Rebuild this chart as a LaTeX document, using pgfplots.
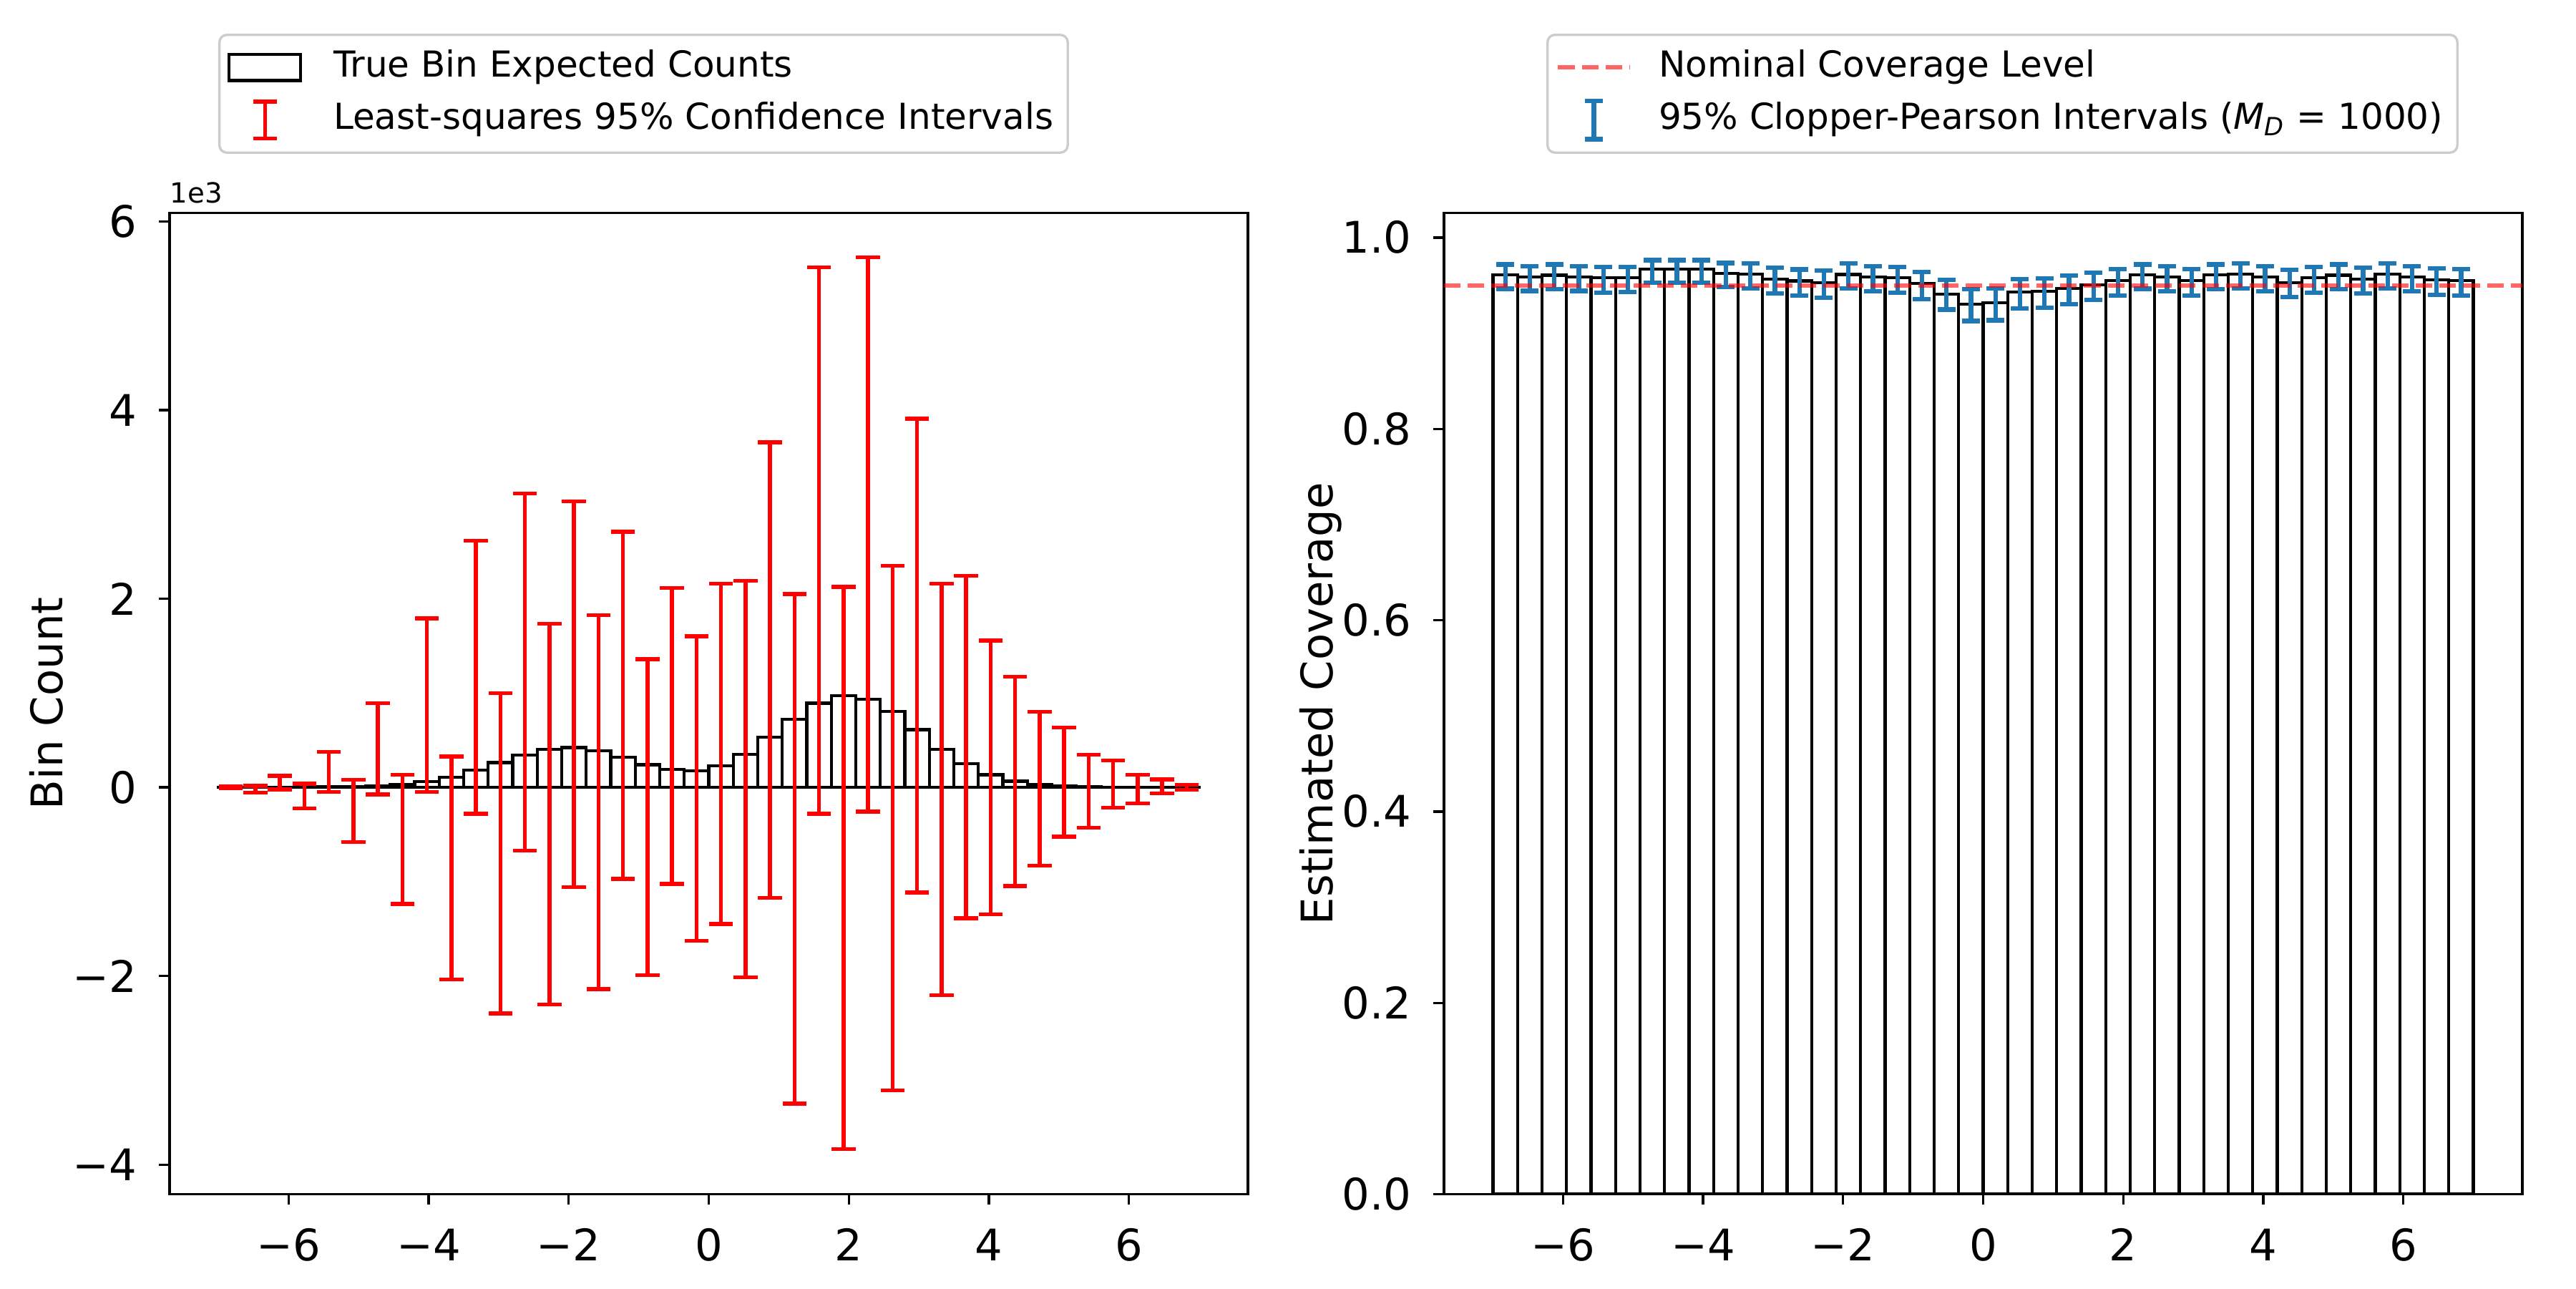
\documentclass[border=0pt]{standalone}
\usepackage{fontspec}
\setmainfont{DejaVu Sans}
\usepackage{pgfplots}
\pgfplotsset{compat=1.18}
\usepackage{pgfplotstable}
\definecolor{tabblue}{HTML}{1F77B4}

\pgfplotstableread{
x h m e
-6.825 0.2 0 10
-6.475 0.5 -21 36
-6.125 1 50 73
-5.775 2 -93 132
-5.425 4 163 212
-5.075 7 -250 331
-4.725 15 409 483
-4.375 32 -551 686
-4.025 60 871 920
-3.675 108 -854 1182
-3.325 180 1167 1446
-2.975 263 -700 1697
-2.625 343 1223 1892
-2.275 405 -283 2018
-1.925 422 986 2045
-1.575 385 -157 1983
-1.225 318 871 1840
-0.875 240 -317 1676
-0.525 188 544 1568
-0.175 174 -11 1614
0.175 231 356 1805
0.525 350 87 2101
0.875 529 1244 2415
1.225 723 -652 2701
1.575 892 2617 2896
1.925 975 -854 2979
2.275 937 2680 2938
2.625 802 -433 2781
2.975 612 1397 2512
3.325 405 -21 2181
3.675 248 429 1816
4.025 134 105 1450
4.375 65 63 1108
4.725 34 -14 815
5.075 16 56 579
5.425 7 -39 387
5.775 3 35 251
6.125 1.5 -18 150
6.475 0.6 11 74
6.825 0.2 0 28
}\leftdata

\pgfplotstableread{
x c m e
-6.825 0.9609 0.9591 0.0127
-6.475 0.9589 0.9570 0.0128
-6.125 0.9606 0.9589 0.0130
-5.775 0.9589 0.9570 0.0128
-5.425 0.9581 0.9558 0.0134
-5.075 0.9581 0.9560 0.0131
-4.725 0.9669 0.9646 0.0117
-4.375 0.9669 0.9646 0.0117
-4.025 0.9669 0.9646 0.0117
-3.675 0.9624 0.9607 0.0126
-3.325 0.9616 0.9598 0.0131
-2.975 0.9564 0.9550 0.0133
-2.625 0.9546 0.9530 0.0136
-2.275 0.9526 0.9513 0.0141
-1.925 0.9614 0.9597 0.0130
-1.575 0.9589 0.9569 0.0130
-1.225 0.9579 0.9558 0.0134
-0.875 0.9519 0.9498 0.0141
-0.525 0.9407 0.9402 0.0155
-0.175 0.9302 0.9294 0.0166
0.175 0.9315 0.9300 0.0165
0.525 0.9429 0.9412 0.0152
0.875 0.9437 0.9419 0.0152
1.225 0.9467 0.9453 0.0148
1.575 0.9504 0.9492 0.0142
1.925 0.9549 0.9532 0.0138
2.275 0.9609 0.9591 0.0127
2.625 0.9589 0.9569 0.0130
2.975 0.9552 0.9532 0.0138
3.325 0.9609 0.9590 0.0128
3.675 0.9616 0.9599 0.0130
4.025 0.9589 0.9569 0.0130
4.375 0.9529 0.9520 0.0141
4.725 0.9579 0.9558 0.0134
5.075 0.9606 0.9590 0.0128
5.425 0.9564 0.9550 0.0133
5.775 0.9616 0.9599 0.0130
6.125 0.9589 0.9569 0.0130
6.475 0.9559 0.9539 0.0137
6.825 0.9549 0.9531 0.0139
}\rightdata

\newcommand\tickfont{\fontsize{14.6bp}{17bp}\selectfont}
\newcommand\legfont{\fontsize{12bp}{14bp}\selectfont}

\pgfplotsset{
  common/.style={
    scale only axis, width=361.68bp, height=329.04bp,
    anchor=south west,
    clip mode=individual,
    xmin=-7.7, xmax=7.7,
    axis line style={line width=0.8bp, black},
    every tick/.style={line width=0.8bp, black},
    major tick length=3.5bp, tick align=outside,
    xtick pos=left, ytick pos=left,
    xtick={-6,-4,-2,0,2,4,6},
    xticklabels={−6,−4,−2,0,2,4,6},
    ticklabel style={font=\tickfont},
    xticklabel style={anchor=base, inner sep=0pt, yshift=-18.9bp},
    yticklabel style={anchor=east, inner sep=0pt, xshift=-7.2bp},
    legend cell align=left,
    legend style={
      anchor=north west,
      draw=black!20, line width=0.8bp, rounded corners=2.5bp,
      fill=white, fill opacity=0.8, draw opacity=1, text opacity=1,
      font=\legfont,
      inner xsep=2.8bp, inner ysep=3bp,
      row sep=1.9bp,
      nodes={inner sep=2bp, text height=9bp, text depth=2.8bp},
    },
  }
}

\begin{document}
\begin{tikzpicture}
\path[use as bounding box] (0,0) rectangle (864bp,432bp);

\begin{axis}[common,
  at={(56.88bp,31.56bp)},
  ymin=-4313, ymax=6090,
  ytick={-4000,-2000,0,2000,4000,6000},
  yticklabels={−4,−2,0,2,4,6},
  every axis y label/.style={at={(rel axis cs:0,0.5)}, xshift=-35.8bp, rotate=90, anchor=base, font=\tickfont},
  ylabel={Bin Count},
  legend style={at={(0.0451,1.1827)}, /tikz/every odd column/.append style={column sep=8.5bp}},
]
\addplot[ybar, bar width=0.35, bar shift=0pt, draw=black, fill=white, line width=1bp,
  legend image code/.code={\draw[black, line width=1bp, fill=white, sharp corners] (0bp,-4.4bp) rectangle (24bp,4.4bp);}]
  table[x=x, y=h] {\leftdata};
\addlegendentry{True Bin Expected Counts}
\addplot[draw=none, mark=none,
  legend image code/.code={\draw[red, line width=1.3bp, sharp corners] (12bp,-6.2bp)--(12bp,6.2bp) (8bp,-6.2bp)--(16bp,-6.2bp) (8bp,6.2bp)--(16bp,6.2bp);},
  error bars/.cd, y dir=both, y explicit,
  error bar style={draw=red, line width=1.3bp},
  error mark=|,
  error mark options={draw=red, line width=1.3bp, mark size=4bp, rotate=0},
  ]
  table[x=x, y=m, y error=e] {\leftdata};
\addlegendentry{Least-squares 95\% Confidence Intervals}
\node[anchor=base west, inner sep=0pt, font=\fontsize{9.3bp}{11bp}\selectfont] at ([yshift=3.3bp]rel axis cs:0,1) {1e3};
\end{axis}

\begin{axis}[common,
  at={(484.32bp,31.56bp)},
  ymin=0, ymax=1.0257,
  ytick={0,0.2,0.4,0.6,0.8,1.0},
  yticklabels={0.0,0.2,0.4,0.6,0.8,1.0},
  every axis y label/.style={at={(rel axis cs:0,0.5)}, xshift=-37.4bp, rotate=90, anchor=base, font=\tickfont},
  ylabel={Estimated Coverage},
  legend style={at={(0.0949,1.1827)}, /tikz/every odd column/.append style={column sep=7bp}},
  reverse legend,
]
\addplot[ybar, bar width=0.35, bar shift=0pt, draw=black, fill=white, line width=1bp, forget plot]
  table[x=x, y=c] {\rightdata};
\addplot[draw=none, mark=none,
  legend image code/.code={\draw[tabblue, line width=1.5bp, sharp corners] (12bp,-6.4bp)--(12bp,6.4bp) (9bp,-6.4bp)--(15bp,-6.4bp) (9bp,6.4bp)--(15bp,6.4bp);},
  error bars/.cd, y dir=both, y explicit,
  error bar style={draw=tabblue, line width=1.5bp},
  error mark=|,
  error mark options={draw=tabblue, line width=1.5bp, mark size=3bp, rotate=0},
  ]
  table[x=x, y=m, y error=e] {\rightdata};
\addlegendentry{95\% Clopper-Pearson Intervals (\textit{M}\textsubscript{\textit{D}} = 1000)}
\addplot[red, opacity=0.6, dash pattern=on 5.55bp off 2.4bp, line width=1.5bp,
  legend image code/.code={\draw[red, opacity=0.6, dash pattern=on 5.55bp off 2.4bp, line width=1.5bp, sharp corners] (0bp,0bp)--(24bp,0bp);}]
  coordinates {(-7.7,0.95) (7.7,0.95)};
\addlegendentry{Nominal Coverage Level}
\end{axis}
\end{tikzpicture}
\end{document}
